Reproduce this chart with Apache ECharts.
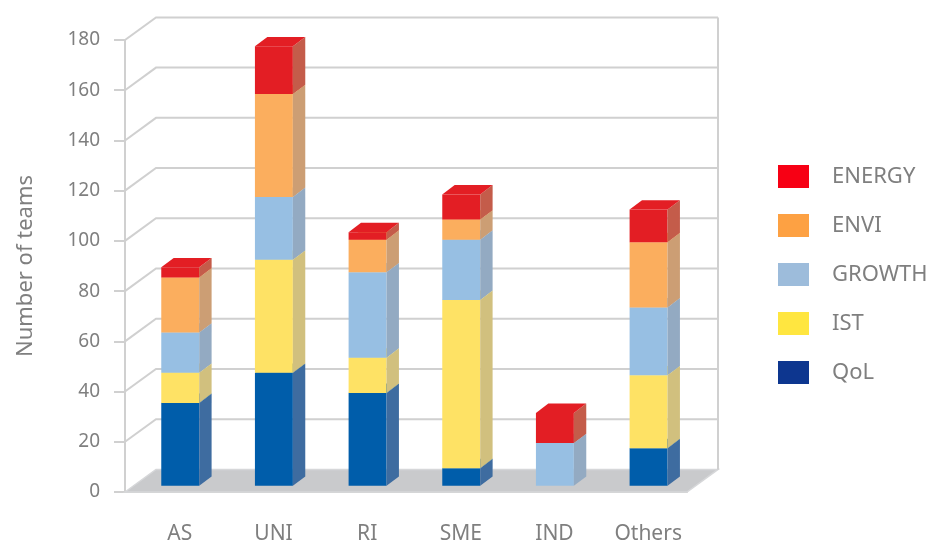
<!DOCTYPE html>
<html>
<head>
<meta charset="utf-8">
<script src="https://cdn.jsdelivr.net/npm/echarts@6/dist/echarts.min.js"></script>
<style>
html, body { margin: 0; padding: 0; background: #fff; }
#main { width: 931px; height: 545px; }
</style>
</head>
<body>
<div id="main"></div>
<script>
// categories and stacked values (bottom to top)
var categories = ['AS', 'UNI', 'RI', 'SME', 'IND', 'Others'];
var qol    = [33, 45, 37, 7, 0, 15];
var ist    = [12, 45, 14, 67, 0, 29];
var growth = [16, 25, 34, 24, 17, 27];
var envi   = [22, 41, 13, 8, 0, 26];
var energy = [4, 19, 3, 10, 12, 13];
var yTicks = [0, 20, 40, 60, 80, 100, 120, 140, 160, 180];

var seriesNames = ['QoL', 'IST', 'GROWTH', 'ENVI', 'ENERGY'];
var seriesValues = [qol, ist, growth, envi, energy];

// colours: front face, side face, legend swatch
var frontColor  = ['#005DAA', '#FEE265', '#97BFE3', '#FBAE5E', '#E31E24'];
var sideColor   = ['#3E6CA0', '#D1C07E', '#93AAC2', '#CC9E74', '#C45C4A'];
var legendColor = ['#0D368F', '#FFE640', '#9DBCDB', '#FDA143', '#F70014'];

var DEPTH = [31, -22.6];     // front plane -> back wall
var BAR_OFF = [8.4, -6.2];   // front plane -> bar front face
var BAR_D = [12.4, -9.4];    // bar depth
var lineColor = '#d0d0d0';
var textColor = '#7f7f7f';
var font = 'Noto Sans';

var chart = echarts.init(document.getElementById('main'));

// stacked bases
var stackBase = categories.map(function () { return 0; });
var barSeries = seriesNames.map(function (name, si) {
    var data = seriesValues[si].map(function (v, ci) {
        var b = stackBase[ci];
        stackBase[ci] += v;
        return [ci, b, b + v];
    });
    return {
        name: name,
        type: 'custom',
        coordinateSystem: 'cartesian2d',
        z: 3,
        silent: true,
        itemStyle: { color: legendColor[si] },
        encode: { x: 0, y: [1, 2] },
        renderItem: function (params, api) {
            var y0 = api.value(1), y1 = api.value(2);
            if (y1 <= y0) return null;
            var p0 = api.coord([api.value(0), y0]);
            var p1 = api.coord([api.value(0), y1]);
            var w = api.size([1, 0])[0] * 0.405;
            var l = p0[0] - w / 2 + BAR_OFF[0], r = l + w;
            var b = p0[1] + BAR_OFF[1], t = p1[1] + BAR_OFF[1];
            return {
                type: 'group',
                children: [{
                    type: 'rect',
                    shape: { x: l, y: t, width: w, height: b - t },
                    style: { fill: frontColor[si] }
                }, {
                    type: 'polygon',
                    shape: { points: [[r, b], [r + BAR_D[0], b + BAR_D[1]], [r + BAR_D[0], t + BAR_D[1]], [r, t]] },
                    style: { fill: sideColor[si] }
                }, {
                    type: 'polygon',
                    shape: { points: [[l, t], [r, t], [r + BAR_D[0], t + BAR_D[1]], [l + BAR_D[0], t + BAR_D[1]]] },
                    style: { fill: frontColor[si] }
                }]
            };
        },
        data: data
    };
});

// back wall, side wall lines and floor
var wallSeries = {
    type: 'custom',
    coordinateSystem: 'cartesian2d',
    z: 1,
    silent: true,
    encode: { x: 0, y: 1 },
    renderItem: function (params, api) {
        var cs = params.coordSys;
        var L = cs.x, R = cs.x + cs.width;
        var v = api.value(1);
        var y = api.coord([0, v])[1];
        var children = [];
        if (v === 0) {
            children.push({
                type: 'polygon',
                shape: { points: [[L, y], [L + DEPTH[0], y + DEPTH[1]], [R + DEPTH[0], y + DEPTH[1]], [R, y]] },
                style: { fill: '#c9cacc', stroke: '#d6d7d9', lineWidth: 1.5 }
            });
            var yTop = api.coord([0, yTicks[yTicks.length - 1]])[1];
            children.push({
                type: 'line',
                shape: { x1: R + DEPTH[0], y1: y + DEPTH[1], x2: R + DEPTH[0], y2: yTop + DEPTH[1] },
                style: { stroke: lineColor, lineWidth: 2 }
            });
        } else {
            children.push({
                type: 'polyline',
                shape: { points: [[L, y], [L + DEPTH[0], y + DEPTH[1]], [R + DEPTH[0], y + DEPTH[1]]] },
                style: { stroke: lineColor, lineWidth: 2, fill: null }
            });
        }
        return { type: 'group', children: children };
    },
    data: yTicks.map(function (v) { return [0, v]; })
};

var option = {
    animation: false,
    backgroundColor: '#fff',
    grid: { left: 125, right: 244, top: 40, bottom: 52 },
    legend: {
        orient: 'vertical',
        left: 773,
        top: 160,
        icon: 'rect',
        itemWidth: 31,
        itemHeight: 23,
        itemGap: 26,
        data: ['ENERGY', 'ENVI', 'GROWTH', 'IST', 'QoL'],
        textStyle: { fontSize: 22, color: textColor, fontFamily: font, padding: [0, 0, 0, 18] }
    },
    xAxis: {
        type: 'category',
        data: categories,
        axisLine: { show: true, lineStyle: { color: lineColor, width: 2 } },
        axisTick: { show: false },
        axisLabel: { fontSize: 21, color: textColor, fontFamily: font, margin: 32, padding: [0, 0, 0, 16] }
    },
    yAxis: {
        type: 'value',
        min: 0,
        max: 180,
        interval: 20,
        name: 'Number of teams',
        nameLocation: 'middle',
        nameGap: 88,
        nameTextStyle: { fontSize: 22, color: textColor, fontFamily: font },
        axisLine: { show: true, lineStyle: { color: lineColor, width: 2 } },
        axisTick: { show: true, length: 11, lineStyle: { color: lineColor, width: 2 } },
        axisLabel: { fontSize: 19, color: textColor, fontFamily: font, margin: 25 },
        splitLine: { show: false }
    },
    series: [wallSeries].concat(barSeries)
};

chart.setOption(option);
</script>
</body>
</html>
